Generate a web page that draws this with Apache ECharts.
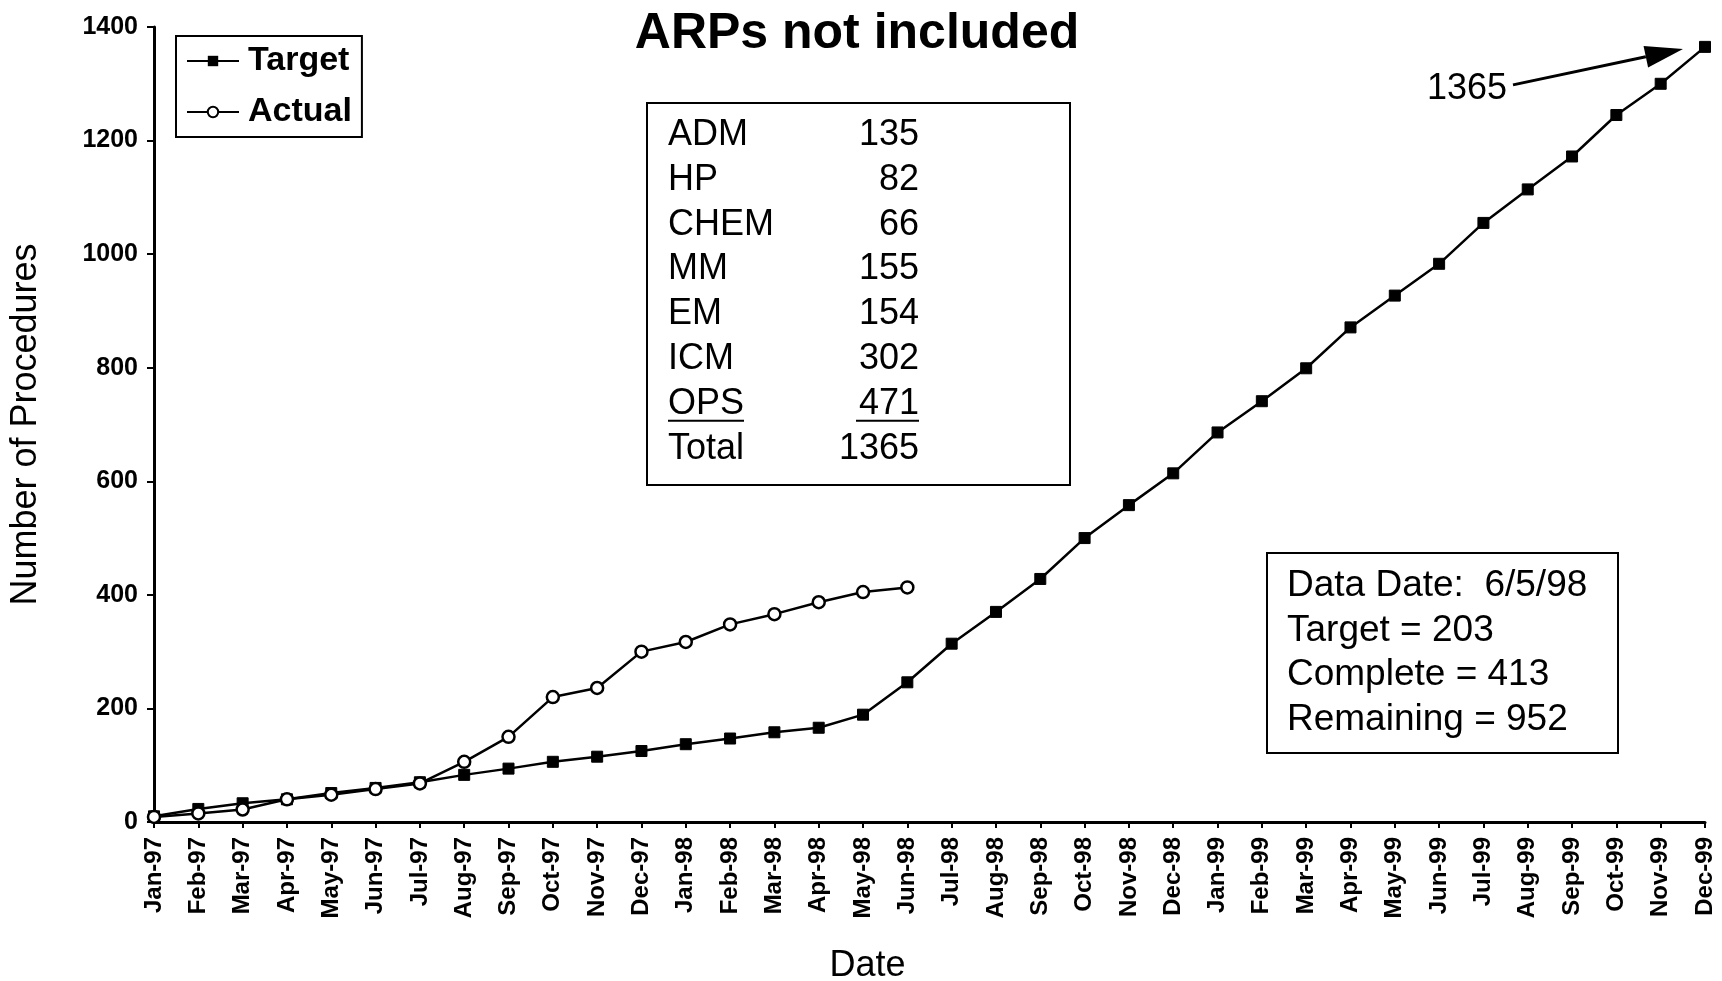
<!DOCTYPE html>
<html>
<head>
<meta charset="utf-8">
<title>ARPs not included</title>
<script src="https://cdn.jsdelivr.net/npm/echarts@6/dist/echarts.min.js"></script>
<style>
  html, body { margin: 0; padding: 0; background: #fff; }
  #chart { width: 1722px; height: 981px; }
</style>
</head>
<body>
<div id="chart"></div>
<script>
// Monthly schedule, Jan-97 .. Dec-99
const months = [
  'Jan-97','Feb-97','Mar-97','Apr-97','May-97','Jun-97','Jul-97','Aug-97','Sep-97','Oct-97','Nov-97','Dec-97',
  'Jan-98','Feb-98','Mar-98','Apr-98','May-98','Jun-98','Jul-98','Aug-98','Sep-98','Oct-98','Nov-98','Dec-98',
  'Jan-99','Feb-99','Mar-99','Apr-99','May-99','Jun-99','Jul-99','Aug-99','Sep-99','Oct-99','Nov-99','Dec-99'
];

// Cumulative procedures planned
const target = [
  10, 23, 33, 40, 51, 60, 70, 83, 94, 106, 115, 125,
  137, 147, 158, 166, 189, 246, 314, 370, 428, 500, 558, 614,
  686, 741, 799, 871, 927, 983, 1055, 1114, 1172, 1245, 1300, 1365
];

// Cumulative procedures completed (through Jun-98)
const actual = [
  9, 15, 22, 40, 48, 58, 68, 106, 150, 220, 236, 300,
  317, 348, 366, 387, 405, 413
];

const yTicks = { min: 0, max: 1400, interval: 200 };

// Procedure counts by organisation
const orgNames  = ['ADM', 'HP', 'CHEM', 'MM', 'EM', 'ICM', 'OPS'];
const orgCounts = [135, 82, 66, 155, 154, 302, 471];
const orgTotal  = orgCounts.reduce((a, b) => a + b, 0);

// Status summary
const dataDate = '6/5/98';
const targetToDate = 203;
const complete = actual[actual.length - 1];
const remaining = orgTotal - complete;

const chart = echarts.init(document.getElementById('chart'));

const sans = "'Liberation Sans', Arial, sans-serif";
const black = '#000';

// Organisation table
const tableChildren = [
  { type: 'rect', shape: { x: 0, y: 0, width: 423, height: 382 },
    style: { fill: '#fff', stroke: black, lineWidth: 2 } }
];
const rowLabels = orgNames.concat(['Total']);
const rowValues = orgCounts.concat([orgTotal]);
const rowFont = '36px ' + sans;
rowLabels.forEach((name, i) => {
  const y = 32 + i * 44.8;
  tableChildren.push({ type: 'text', x: 21, y: y,
    style: { text: name, font: rowFont, fill: black, verticalAlign: 'middle', align: 'left' } });
  tableChildren.push({ type: 'text', x: 272, y: y,
    style: { text: String(rowValues[i]), font: rowFont, fill: black, verticalAlign: 'middle', align: 'right' } });
});
// subtotal rule under the last organisation row
const ulY = 32 + 6 * 44.8 + 17;
tableChildren.push({ type: 'line', shape: { x1: 21, y1: ulY, x2: 97, y2: ulY }, style: { stroke: black, lineWidth: 2 } });
tableChildren.push({ type: 'line', shape: { x1: 209, y1: ulY, x2: 272, y2: ulY }, style: { stroke: black, lineWidth: 2 } });

// Status box
const statusLines = [
  'Data Date:  ' + dataDate,
  'Target = ' + targetToDate,
  'Complete = ' + complete,
  'Remaining = ' + remaining
];
const statusChildren = [
  { type: 'rect', shape: { x: 0, y: 0, width: 351, height: 200 },
    style: { fill: '#fff', stroke: black, lineWidth: 2 } }
];
statusLines.forEach((t, i) => {
  statusChildren.push({ type: 'text', x: 20, y: 33 + i * 44.5,
    style: { text: t, font: '37px ' + sans, fill: black, verticalAlign: 'middle', align: 'left' } });
});

const option = {
  backgroundColor: '#fff',
  animation: false,
  title: {
    text: 'ARPs not included',
    left: 852,
    textAlign: 'center',
    top: 4,
    textStyle: { fontFamily: sans, fontSize: 50, fontWeight: 'bold', color: black }
  },
  legend: {
    orient: 'vertical',
    left: 176,
    top: 36,
    padding: [8, 10, 8, 10],
    itemGap: 17,
    itemWidth: 52,
    itemHeight: 13,
    borderColor: black,
    borderWidth: 2,
    backgroundColor: '#fff',
    textStyle: { fontFamily: sans, fontSize: 34, fontWeight: 'bold', color: black, padding: [0, 0, 0, 4] },
    data: ['Target', 'Actual']
  },
  grid: { left: 154, right: 17, top: 27, bottom: 159, containLabel: false, outerBoundsMode: 'none' },
  xAxis: {
    type: 'category',
    data: months,
    boundaryGap: false,
    name: 'Date',
    nameLocation: 'middle',
    nameGap: 126,
    nameTextStyle: { fontFamily: sans, fontSize: 36, color: black, padding: [0, 124, 0, 0] },
    axisLine: { lineStyle: { color: black, width: 3 } },
    axisTick: { show: true, length: 6, lineStyle: { color: black, width: 2 } },
    axisLabel: { interval: 0, rotate: 90, margin: 15, fontFamily: sans, fontSize: 24, fontWeight: 'bold', color: black },
    splitLine: { show: false }
  },
  yAxis: {
    type: 'value',
    min: yTicks.min,
    max: yTicks.max,
    interval: yTicks.interval,
    name: 'Number of Procedures',
    nameLocation: 'middle',
    nameGap: 110,
    nameTextStyle: { fontFamily: sans, fontSize: 36, color: black },
    axisLine: { show: true, lineStyle: { color: black, width: 3 } },
    axisTick: { show: true, length: 7, lineStyle: { color: black, width: 2 } },
    axisLabel: { margin: 16, fontFamily: sans, fontSize: 25, fontWeight: 'bold', color: black,
      formatter: v => String(v) },
    splitLine: { show: false }
  },
  series: [
    {
      name: 'Target',
      type: 'line',
      data: target,
      symbol: 'rect',
      symbolSize: 11,
      itemStyle: { color: black, borderColor: black },
      lineStyle: { color: black, width: 2.5 },
      z: 3
    },
    {
      name: 'Actual',
      type: 'line',
      data: actual,
      symbol: 'circle',
      symbolSize: 12,
      showAllSymbol: true,
      itemStyle: { color: '#fff', borderColor: black, borderWidth: 2.5 },
      lineStyle: { color: black, width: 2.5 },
      z: 4
    }
  ]
};

chart.setOption(option);

// Arrow annotation pointing at the final target point, plus the two boxes
const endPt = chart.convertToPixel({ seriesIndex: 0 }, [months.length - 1, target[target.length - 1]]);
const tip = [endPt[0] - 22, endPt[1] + 2];
const tail = [endPt[0] - 192, endPt[1] + 38];
const dx = tip[0] - tail[0], dy = tip[1] - tail[1];
const len = Math.sqrt(dx * dx + dy * dy);
const ux = dx / len, uy = dy / len;
const headLen = 38, headHalf = 11;
const base = [tip[0] - ux * headLen, tip[1] - uy * headLen];

chart.setOption({
  graphic: [
    { type: 'group', left: 646, top: 102, children: tableChildren },
    { type: 'group', left: 1266, top: 552, children: statusChildren },
    { type: 'text', x: tail[0] - 6, y: tail[1] + 4,
      style: { text: String(target[target.length - 1]), font: '36px ' + sans, fill: black, align: 'right', verticalAlign: 'middle' } },
    { type: 'line', shape: { x1: tail[0], y1: tail[1], x2: base[0], y2: base[1] }, style: { stroke: black, lineWidth: 3 } },
    { type: 'polygon', shape: { points: [
        tip,
        [base[0] - uy * headHalf, base[1] + ux * headHalf],
        [base[0] + uy * headHalf, base[1] - ux * headHalf]
      ] }, style: { fill: black } }
  ]
});
</script>
</body>
</html>
